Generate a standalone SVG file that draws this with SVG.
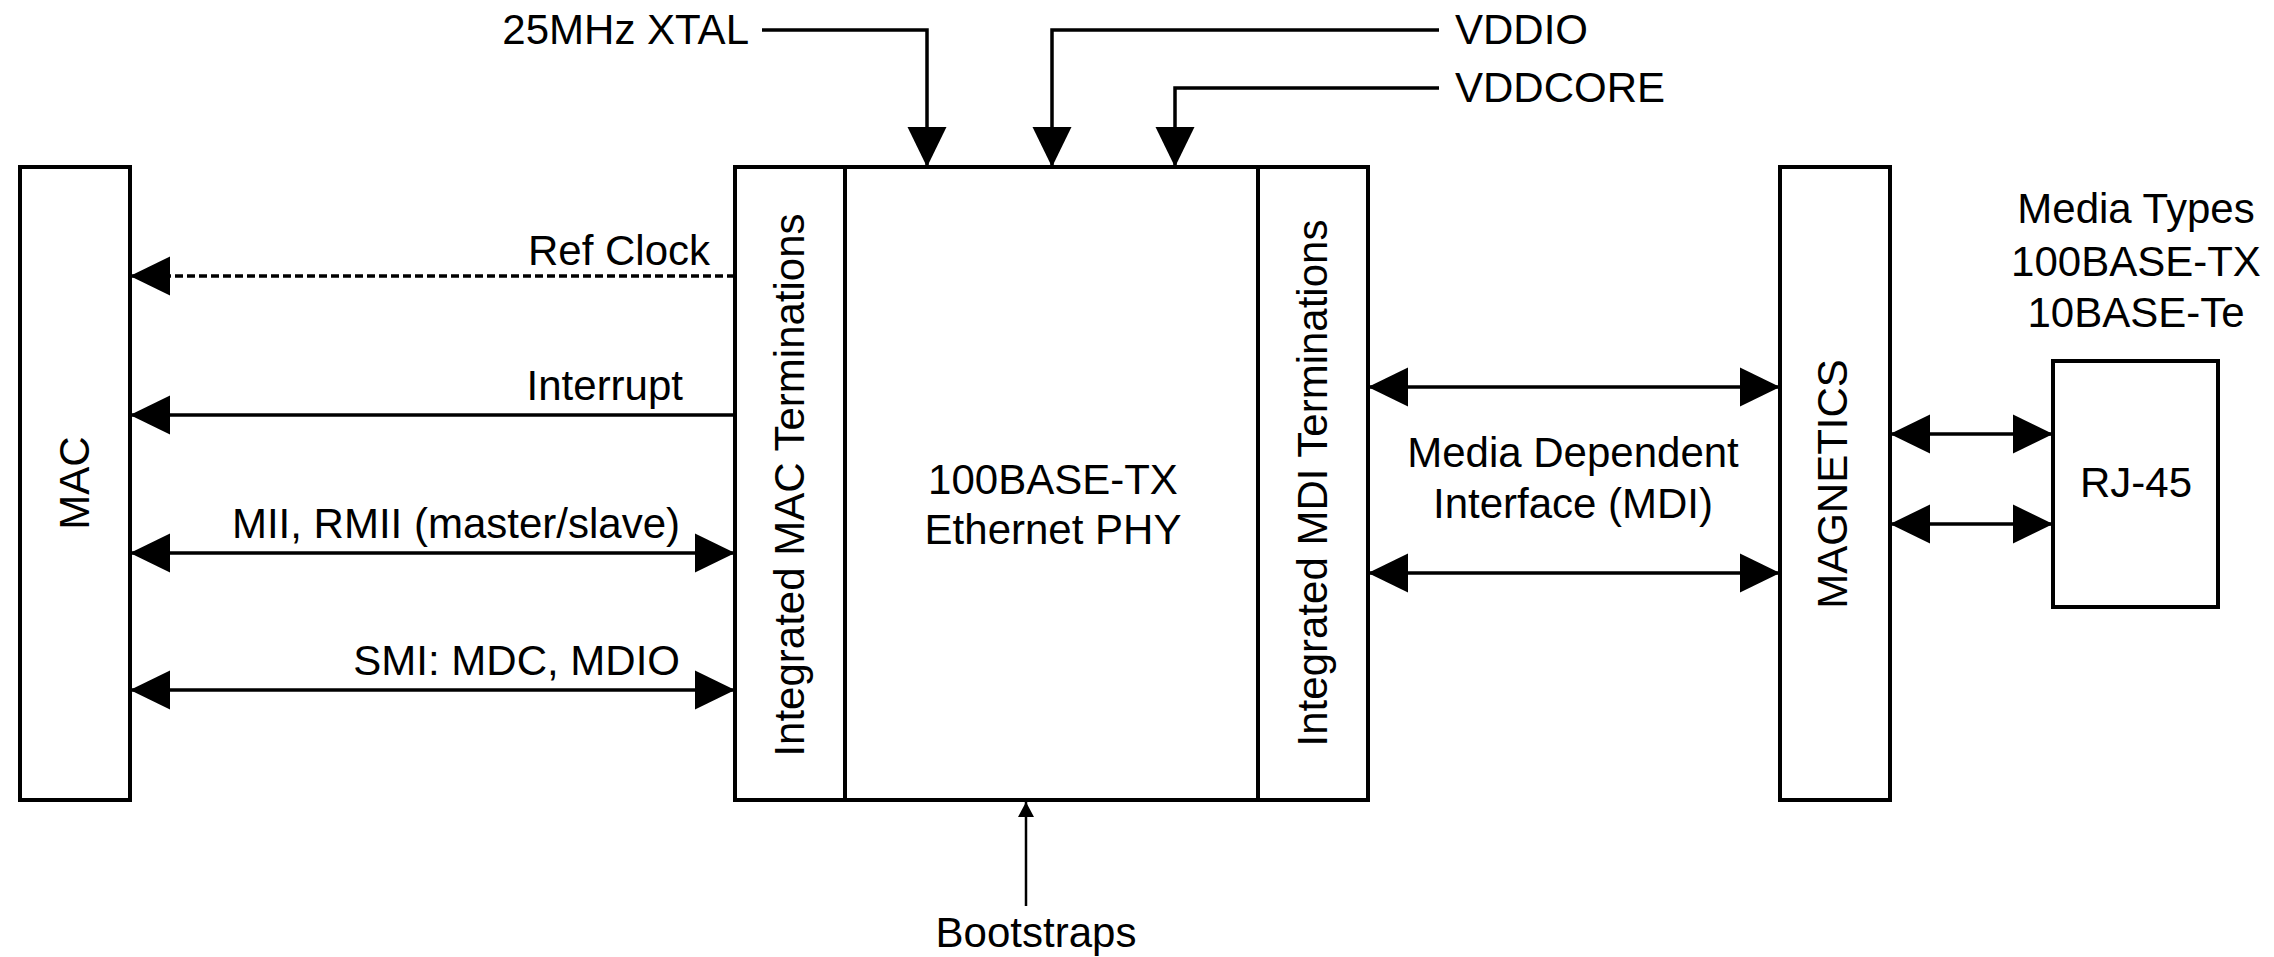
<svg xmlns="http://www.w3.org/2000/svg" width="2274" height="957" viewBox="0 0 2274 957">
  <defs>
    <style>
      .box { fill: #ffffff; stroke: #000000; stroke-width: 4; }
      .lbl { font-family: "Liberation Sans", Arial, Helvetica, sans-serif; font-size: 42px; fill: #000000; }
      .mid { text-anchor: middle; }
      .end { text-anchor: end; }
      .wire { fill: none; stroke: #000000; stroke-width: 3.5; }
      .thin { fill: none; stroke: #000000; stroke-width: 2.5; }
      .dashed { stroke-dasharray: 8 4; }
    </style>
    <!-- large solid arrowhead used on every bus / signal line -->
    <marker id="head" markerUnits="userSpaceOnUse" markerWidth="40" markerHeight="40"
            viewBox="0 0 39 38" refX="39" refY="19" orient="auto-start-reverse">
      <path d="M0,0 L39,19 L0,38 Z" fill="#000000"/>
    </marker>
    <!-- small arrowhead for the bootstrap input -->
    <marker id="headSmall" markerUnits="userSpaceOnUse" markerWidth="16" markerHeight="16"
            viewBox="0 0 14 15" refX="14" refY="7.5" orient="auto">
      <path d="M0,0 L14,7.5 L0,15 Z" fill="#000000"/>
    </marker>
  </defs>

  <rect width="2274" height="957" fill="#ffffff"/>

  <!-- MAC -->
  <g id="mac">
    <rect class="box" x="20" y="167" width="110" height="633"/>
    <text class="lbl mid" transform="translate(89,483) rotate(-90)">MAC</text>
  </g>

  <!-- PHY: MAC-side terminations -->
  <g id="mac-terminations">
    <rect class="box" x="735" y="167" width="110" height="633"/>
    <text class="lbl mid" transform="translate(804,485) rotate(-90)">Integrated MAC Terminations</text>
  </g>

  <!-- PHY core -->
  <g id="phy-core">
    <rect class="box" x="845" y="167" width="413" height="633"/>
    <text class="lbl mid" x="1053" y="494">100BASE-TX</text>
    <text class="lbl mid" x="1053" y="544">Ethernet PHY</text>
  </g>

  <!-- PHY: MDI-side terminations -->
  <g id="mdi-terminations">
    <rect class="box" x="1258" y="167" width="110" height="633"/>
    <text class="lbl mid" transform="translate(1327,483) rotate(-90)">Integrated MDI Terminations</text>
  </g>

  <!-- Magnetics -->
  <g id="magnetics">
    <rect class="box" x="1780" y="167" width="110" height="633"/>
    <text class="lbl mid" transform="translate(1847,484) rotate(-90)">MAGNETICS</text>
  </g>

  <!-- RJ-45 connector -->
  <g id="rj45">
    <rect class="box" x="2053" y="361" width="165" height="246"/>
    <text class="lbl mid" x="2136" y="497">RJ-45</text>
  </g>

  <!-- supported media -->
  <g id="media-types">
    <text class="lbl mid" x="2136" y="223">Media Types</text>
    <text class="lbl mid" x="2136" y="276">100BASE-TX</text>
    <text class="lbl mid" x="2136" y="327">10BASE-Te</text>
  </g>

  <!-- external inputs -->
  <g id="xtal">
    <text class="lbl end" x="749" y="44">25MHz XTAL</text>
  </g>
  <g id="vddio">
    <text class="lbl" x="1455" y="44">VDDIO</text>
  </g>
  <g id="vddcore">
    <text class="lbl" x="1455" y="102">VDDCORE</text>
  </g>
  <g id="bootstraps">
    <text class="lbl mid" x="1036" y="947">Bootstraps</text>
  </g>

  <!-- connectors and their labels -->
  <g id="connectors">
    <!-- MAC side -->
    <line class="wire dashed" x1="735" y1="276" x2="130" y2="276" marker-end="url(#head)"/>
    <text class="lbl end" x="710" y="265">Ref Clock</text>

    <line class="wire" x1="735" y1="415" x2="130" y2="415" marker-end="url(#head)"/>
    <text class="lbl end" x="683" y="400">Interrupt</text>

    <line class="wire" x1="130" y1="553" x2="735" y2="553" marker-start="url(#head)" marker-end="url(#head)"/>
    <text class="lbl end" x="680" y="538">MII, RMII (master/slave)</text>

    <line class="wire" x1="130" y1="690" x2="735" y2="690" marker-start="url(#head)" marker-end="url(#head)"/>
    <text class="lbl end" x="680" y="675">SMI: MDC, MDIO</text>

    <!-- media dependent interface -->
    <line class="wire" x1="1368" y1="387" x2="1780" y2="387" marker-start="url(#head)" marker-end="url(#head)"/>
    <line class="wire" x1="1368" y1="573" x2="1780" y2="573" marker-start="url(#head)" marker-end="url(#head)"/>
    <text class="lbl mid" x="1573" y="467">Media Dependent</text>
    <text class="lbl mid" x="1573" y="518">Interface (MDI)</text>

    <!-- magnetics to RJ-45 -->
    <line class="wire" x1="1890" y1="434" x2="2053" y2="434" marker-start="url(#head)" marker-end="url(#head)"/>
    <line class="wire" x1="1890" y1="524" x2="2053" y2="524" marker-start="url(#head)" marker-end="url(#head)"/>

    <!-- clock and supplies -->
    <path class="wire" d="M762,30 H927 V167" marker-end="url(#head)"/>
    <path class="wire" d="M1439,30 H1052 V167" marker-end="url(#head)"/>
    <path class="wire" d="M1439,88 H1175 V167" marker-end="url(#head)"/>

    <!-- bootstrap straps -->
    <line class="thin" x1="1026" y1="906" x2="1026" y2="802" marker-end="url(#headSmall)"/>
  </g>
</svg>
